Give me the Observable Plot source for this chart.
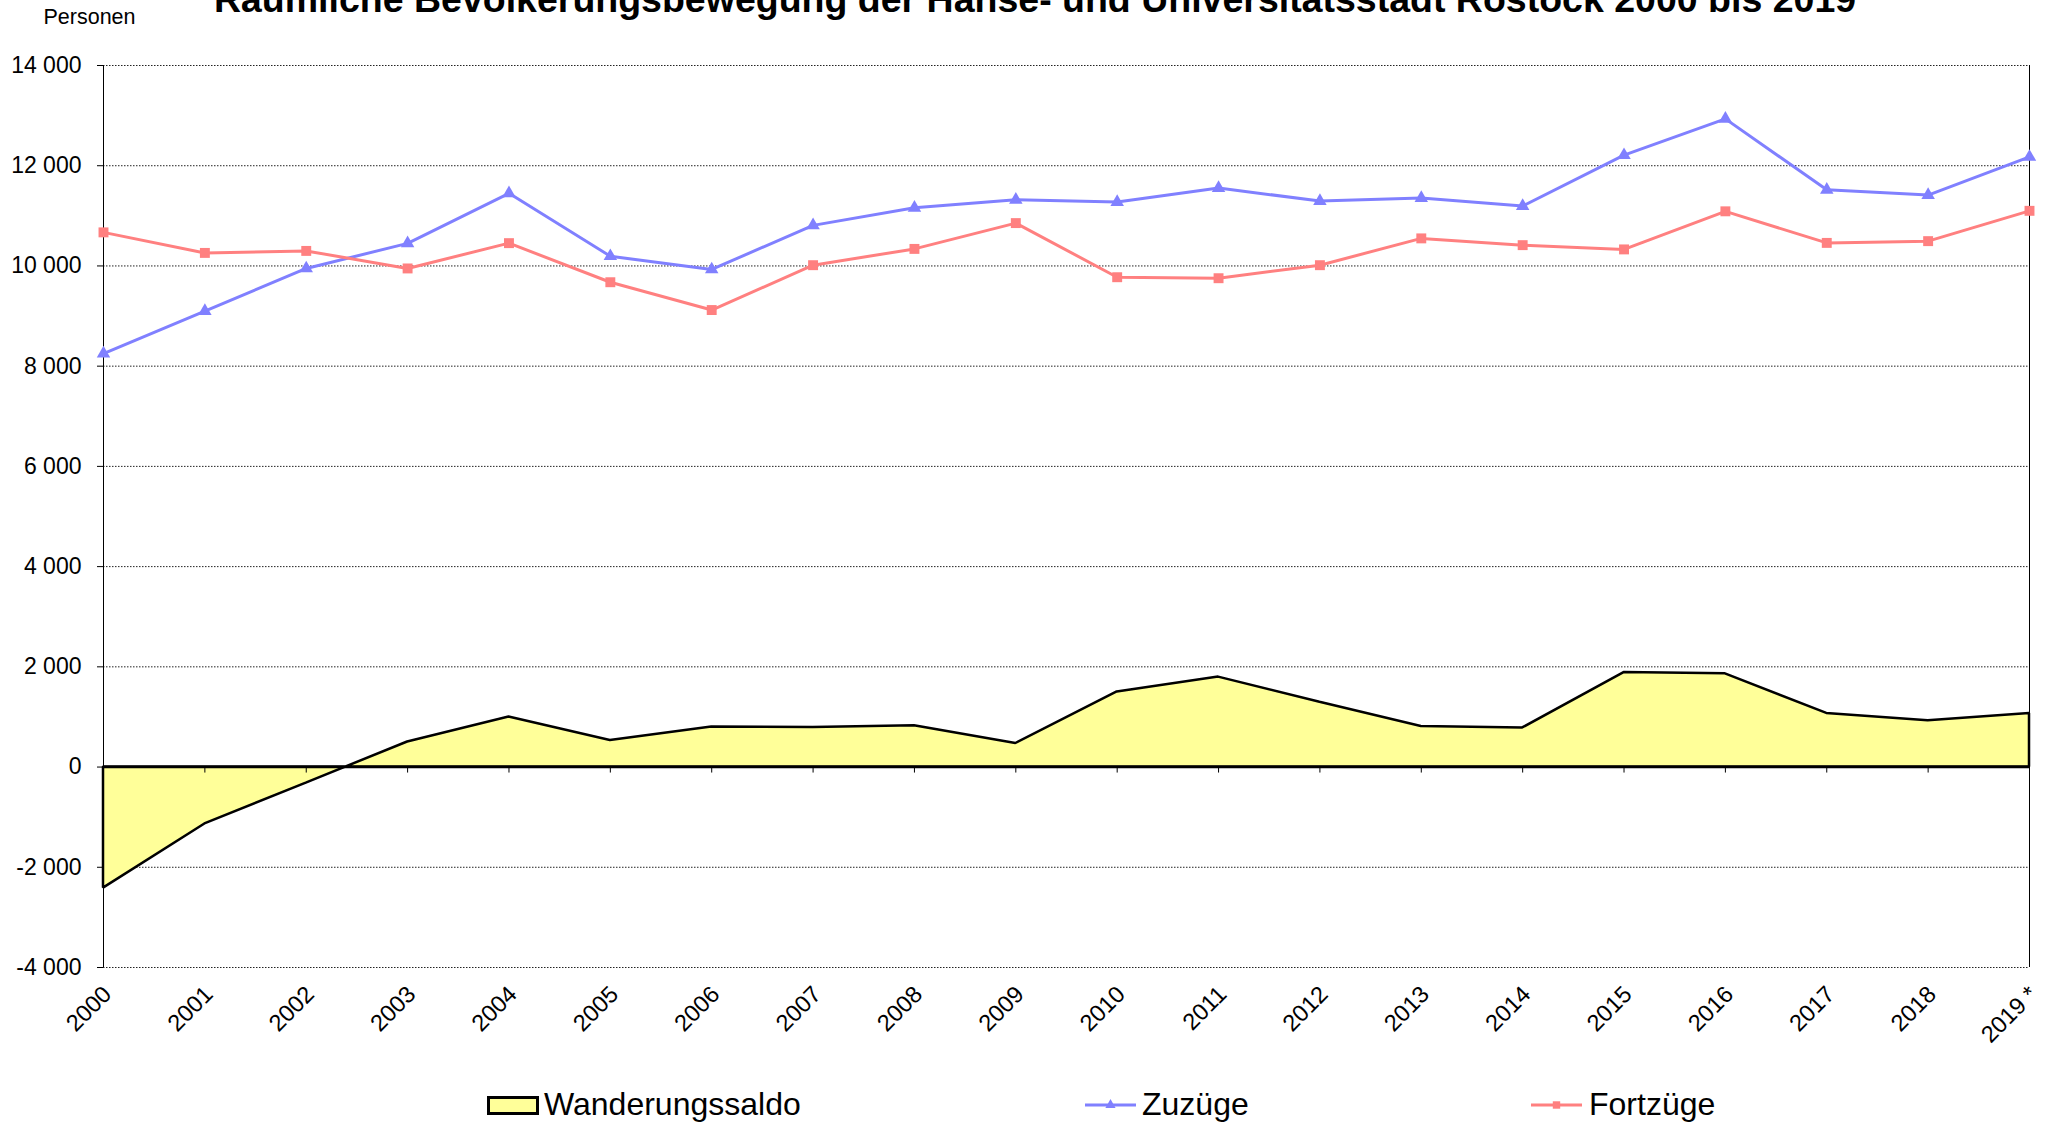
<!DOCTYPE html>
<html>
<head>
<meta charset="utf-8">
<script src="https://cdn.jsdelivr.net/npm/d3@7"></script>
<script src="https://cdn.jsdelivr.net/npm/@observablehq/plot@0.6"></script>
<style>
  html, body { margin: 0; padding: 0; background: #fff; }
  #wrap { position: relative; width: 2047px; height: 1125px; overflow: hidden; background: #fff;
          font-family: "Liberation Sans", Arial, sans-serif; color: #000; }
  #title { position: absolute; left: 1035px; top: -19px; transform: translateX(-50%);
           font-size: 37.5px; line-height: 37px; font-weight: bold; white-space: nowrap; }
  #chart { position: absolute; left: 0; top: 0; }
  #legend { position: absolute; left: 0; top: 1060px; }
</style>
</head>
<body>
<div id="wrap">
  <div id="chart"></div>
  <div id="title">Räumliche Bevölkerungsbewegung der Hanse- und Universitätsstadt Rostock 2000 bis 2019</div>
  <svg id="legend" width="2047" height="65"></svg>
</div>
<script>
// ---- data ----
const years = [2000, 2001, 2002, 2003, 2004, 2005, 2006, 2007, 2008, 2009,
               2010, 2011, 2012, 2013, 2014, 2015, 2016, 2017, 2018, 2019];
const xLabels = ["2000", "2001", "2002", "2003", "2004", "2005", "2006", "2007", "2008", "2009",
                 "2010", "2011", "2012", "2013", "2014", "2015", "2016", "2017", "2018", "2019 *"];
const zuzuege = [8250, 9100, 9950, 10450, 11450, 10195, 9930, 10810, 11160, 11320,
                 11275, 11555, 11295, 11355, 11195, 12210, 12935, 11520, 11415, 12175];
const fortzuege = [10670, 10260, 10300, 9950, 10455, 9675, 9120, 10015, 10340, 10855,
                   9775, 9755, 10015, 10550, 10415, 10330, 11090, 10460, 10495, 11100];
const saldo = [-2415, -1135, -320, 500, 1000, 530, 800, 790, 825, 470,
               1500, 1795, 1295, 810, 780, 1885, 1860, 1070, 925, 1070];
const yTicks = [-4000, -2000, 0, 2000, 4000, 6000, 8000, 10000, 12000, 14000];
const seriesNames = ["Wanderungssaldo", "Zuzüge", "Fortzüge"];
const yLabel = "Personen";

// ---- build table ----
const rows = years.map((y, i) => ({year: y, zu: zuzuege[i], fort: fortzuege[i], saldo: saldo[i]}));
const fmtY = d => (d < 0 ? "-" : "") + d3.format(",")(Math.abs(d)).replace(/,/g, " ");

const BLUE = "#8080FF", RED = "#FF8080", YELLOW = "#FFFF99";
const FONT = "'Liberation Sans', Arial, sans-serif";

const chart = Plot.plot({
  width: 2047,
  height: 1060,
  marginLeft: 103,
  marginRight: 18,
  marginTop: 65,
  marginBottom: 93,
  style: {fontFamily: FONT, background: "white", color: "black", overflow: "visible"},
  x: {type: "linear", domain: [years[0], years[years.length - 1]], label: null},
  y: {domain: [yTicks[0], yTicks[yTicks.length - 1]], label: null},
  marks: [
    Plot.gridY(yTicks, {stroke: "#222", strokeOpacity: 1, strokeWidth: 1, strokeDasharray: "1.5,1.5"}),
    Plot.areaY(rows, {x: "year", y: "saldo", fill: YELLOW, stroke: "black", strokeWidth: 2.5, strokeLinejoin: "miter"}),
    Plot.ruleY([0], {stroke: "black", strokeWidth: 2.5}),
    Plot.ruleX(rows, {x: "year", y1: 0, y2: 0, insetBottom: -6, stroke: "black", strokeWidth: 1}),
    Plot.ruleX([years[0], years[years.length - 1]], {stroke: "black", strokeWidth: 1}),
    Plot.line(rows, {x: "year", y: "zu", stroke: BLUE, strokeWidth: 3}),
    Plot.dot(rows, {x: "year", y: "zu", symbol: "triangle", r: 5, fill: BLUE, stroke: "none"}),
    Plot.line(rows, {x: "year", y: "fort", stroke: RED, strokeWidth: 3}),
    Plot.dot(rows, {x: "year", y: "fort", symbol: "square", r: 5.6, fill: RED, stroke: "none"}),
    Plot.axisY({ticks: yTicks, tickFormat: fmtY, tickSize: 6, tickPadding: 16, fontSize: 23, label: null}),
    Plot.axisX({ticks: years, tickFormat: d => xLabels[years.indexOf(d)], tickSize: 0, tickPadding: 23,
                tickRotate: -45, fontSize: 23.5, dx: 4, label: null}),
    Plot.text([yLabel], {frameAnchor: "top-left", textAnchor: "start", lineAnchor: "bottom",
                         dx: -60, dy: -42, fontSize: 21.5})
  ]
});
document.getElementById("chart").appendChild(chart);

// ---- legend (below the chart) ----
const lg = d3.select("#legend");
const cy = 45, base = 55, fs = 32;
// Wanderungssaldo swatch
lg.append("rect").attr("x", 488.5).attr("y", 37.5).attr("width", 49).attr("height", 16)
  .attr("fill", YELLOW).attr("stroke", "black").attr("stroke-width", 3);
lg.append("text").attr("x", 544).attr("y", base).attr("font-size", fs)
  .attr("font-family", FONT).text(seriesNames[0]);
// Zuzüge
lg.append("line").attr("x1", 1085).attr("x2", 1136).attr("y1", cy).attr("y2", cy)
  .attr("stroke", BLUE).attr("stroke-width", 3);
lg.append("path").attr("transform", `translate(1110.5,${cy})`)
  .attr("d", d3.symbol(d3.symbolTriangle, 45)()).attr("fill", BLUE);
lg.append("text").attr("x", 1142).attr("y", base).attr("font-size", fs)
  .attr("font-family", FONT).text(seriesNames[1]);
// Fortzüge
lg.append("line").attr("x1", 1531).attr("x2", 1582).attr("y1", cy).attr("y2", cy)
  .attr("stroke", RED).attr("stroke-width", 3);
lg.append("path").attr("transform", `translate(1556.5,${cy})`)
  .attr("d", d3.symbol(d3.symbolSquare, 55)()).attr("fill", RED);
lg.append("text").attr("x", 1589).attr("y", base).attr("font-size", fs)
  .attr("font-family", FONT).text(seriesNames[2]);
</script>
</body>
</html>
